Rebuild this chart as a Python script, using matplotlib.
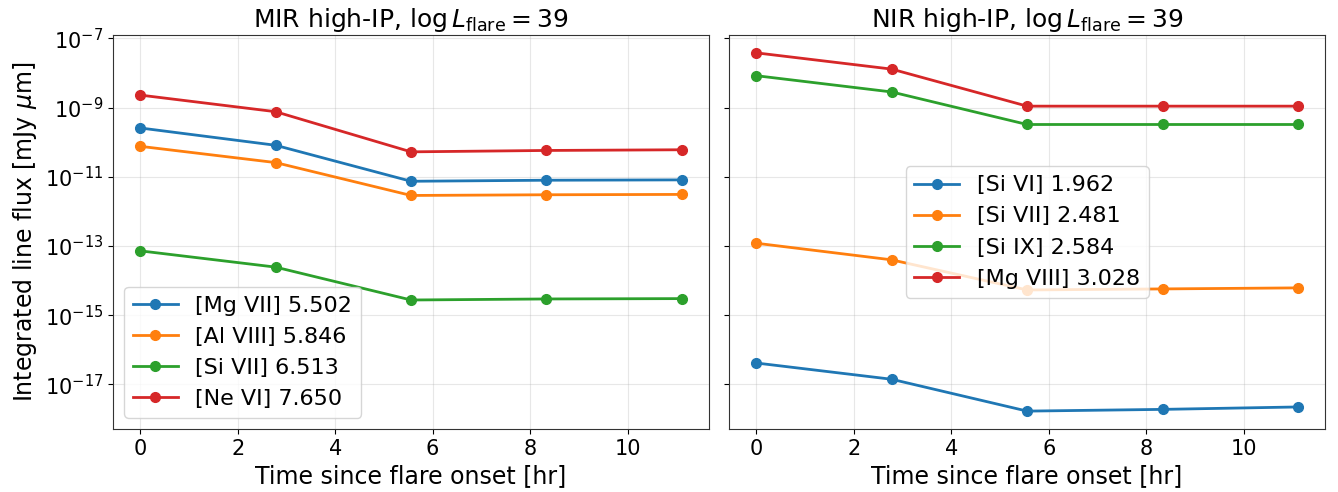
import numpy as np
import matplotlib
matplotlib.use("Agg")
import matplotlib.pyplot as plt

# time since flare onset [hr]
t_hr = [0.0, 2.778, 5.556, 8.333, 11.111]

# MIR high-IP lines, log10 flux
mir_labels = ["[Mg VII] 5.502", "[Al VIII] 5.846", "[Si VII] 6.513", "[Ne VI] 7.650"]
mir_mg7 = [-9.59, -10.09, -11.13, -11.10, -11.09]
mir_al8 = [-10.12, -10.59, -11.54, -11.52, -11.51]
mir_si7 = [-13.14, -13.61, -14.56, -14.53, -14.52]
mir_ne6 = [-8.64, -9.12, -10.28, -10.24, -10.22]

# NIR high-IP lines, log10 flux
nir_labels = ["[Si VI] 1.962", "[Si VII] 2.481", "[Si IX] 2.584", "[Mg VIII] 3.028"]
nir_si6 = [-16.38, -16.85, -17.77, -17.72, -17.65]
nir_si7 = [-12.92, -13.40, -14.27, -14.24, -14.21]
nir_si9 = [-8.08, -8.55, -9.49, -9.49, -9.49]
nir_mg8 = [-7.42, -7.89, -8.96, -8.96, -8.96]

fs = 15
fig, axes = plt.subplots(1, 2, figsize=(13.38, 4.92), dpi=100, sharey=True)
plt.subplots_adjust(left=0.0845, right=0.9903, top=0.929, bottom=0.128, wspace=0.034)

panels = [
    (axes[0], "MIR", mir_labels, [mir_mg7, mir_al8, mir_si7, mir_ne6]),
    (axes[1], "NIR", nir_labels, [nir_si6, nir_si7, nir_si9, nir_mg8]),
]
for ax, band, labels, series in panels:
    for lab, logf in zip(labels, series):
        ax.plot(t_hr, 10.0 ** np.array(logf), "o-", lw=2, ms=7, label=lab)
    ax.set_yscale("log")
    ax.grid(True, alpha=0.3)
    ax.set_title(band + r" high-IP, $\log L_{\rm flare} = 39$", fontsize=18)
    ax.set_xlabel("Time since flare onset [hr]", fontsize=17)
    ax.tick_params(labelsize=fs)
    for s in ax.spines.values():
        s.set_edgecolor("#333333")

axes[0].set_ylabel(r"Integrated line flux [mJy $\mu$m]", fontsize=17)
axes[0].legend(loc="lower left", fontsize=16)
axes[1].legend(loc="center", fontsize=16)

fig.savefig("out.png", dpi=100)
